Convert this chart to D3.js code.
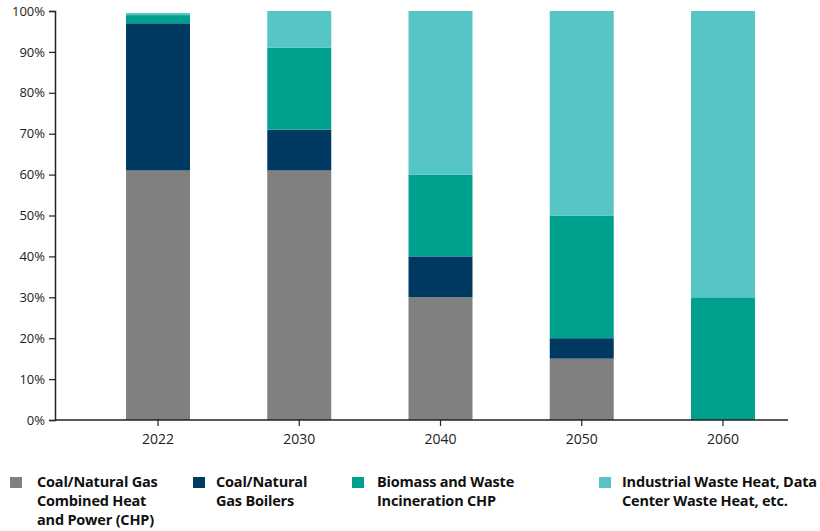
<!DOCTYPE html>
<html><head><meta charset="utf-8">
<script src="https://cdn.jsdelivr.net/npm/d3@7"></script>
<style>
body{margin:0;background:#fff;}
text{font-family:"Open Sans",sans-serif;}
</style></head>
<body><svg id="c" width="820" height="531"></svg>
<script>
const years = ["2022","2030","2040","2050","2060"];
const seriesNames = ["Coal/Natural Gas Combined Heat and Power (CHP)","Coal/Natural Gas Boilers","Biomass and Waste Incineration CHP","Industrial Waste Heat, Data Center Waste Heat, etc."];
const chp = [61,61,30,15,0];
const boilers = [36,10,10,5,0];
const biomass = [2,20,20,30,30];
const wasteHeat = [0.5,9,40,50,70];
const colors = ["#808080","#003a63","#00a08f","#56c5c5"];
const yTicks = [0,10,20,30,40,50,60,70,80,90,100];
const legendLines = [["Coal/Natural Gas","Combined Heat","and Power (CHP)"],["Coal/Natural","Gas Boilers"],["Biomass and Waste","Incineration CHP"],["Industrial Waste Heat, Data","Center Waste Heat, etc."]];

const svg = d3.select("#c");
const x = d3.scaleBand().domain(years).range([87.4,793.6]).paddingInner(0.547).paddingOuter(0.2735);
const y = d3.scaleLinear().domain([0,100]).range([420,11]);

const rows = years.map((yr,i)=>({year:yr, s0:chp[i], s1:boilers[i], s2:biomass[i], s3:wasteHeat[i]}));
const stack = d3.stack().keys(["s0","s1","s2","s3"])(rows);

svg.append("g").selectAll("g").data(stack).join("g")
  .attr("fill",(d,i)=>colors[i])
  .selectAll("rect").data(d=>d).join("rect")
  .attr("x",d=>x(d.data.year))
  .attr("width",x.bandwidth())
  .attr("y",d=>y(d[1]))
  .attr("height",d=>Math.max(0,y(d[0])-y(d[1])));

// y axis
const ya = svg.append("g").attr("transform","translate(55,0)")
  .call(d3.axisLeft(y).tickValues(yTicks).tickFormat(d=>d+"%").tickSize(6).tickPadding(4));
ya.select(".domain").attr("stroke","#222").attr("stroke-width",1.5);
ya.selectAll(".tick line").attr("stroke","#222").attr("stroke-width",1.2);
ya.selectAll("text").attr("font-size",13).attr("fill","#222").style("font-family","'Open Sans',sans-serif");

// x axis
const xa = svg.append("g").attr("transform","translate(0,420)")
  .call(d3.axisBottom(x).tickSize(6).tickPadding(8).tickSizeOuter(0));
xa.select(".domain").attr("d","M55,0H788").attr("stroke","#222").attr("stroke-width",1.5);
xa.selectAll(".tick line").attr("stroke","#222").attr("stroke-width",1.2);
xa.selectAll("text").attr("font-size",14).attr("fill","#222").style("font-family","'Open Sans',sans-serif");

// legend
const legX = [10,193,352,599];
const lg = svg.append("g").selectAll("g").data(seriesNames).join("g")
  .attr("transform",(d,i)=>`translate(${legX[i]},477)`);
lg.append("rect").attr("width",12).attr("height",11).attr("fill",(d,i)=>colors[i]);
lg.append("text").attr("x",(d,i)=>i===3?23:(i===2?25:(i===1?23:27)))
  .attr("y",9.5).attr("font-size",14.5).attr("font-weight","bold").attr("fill","#111")
  .attr("letter-spacing",-0.2)
  .selectAll("tspan").data((d,i)=>legendLines[i]).join("tspan")
  .attr("x",function(){return d3.select(this.parentNode).attr("x");})
  .attr("dy",(d,j)=>j===0?0:19).text(d=>d);
</script></body></html>
